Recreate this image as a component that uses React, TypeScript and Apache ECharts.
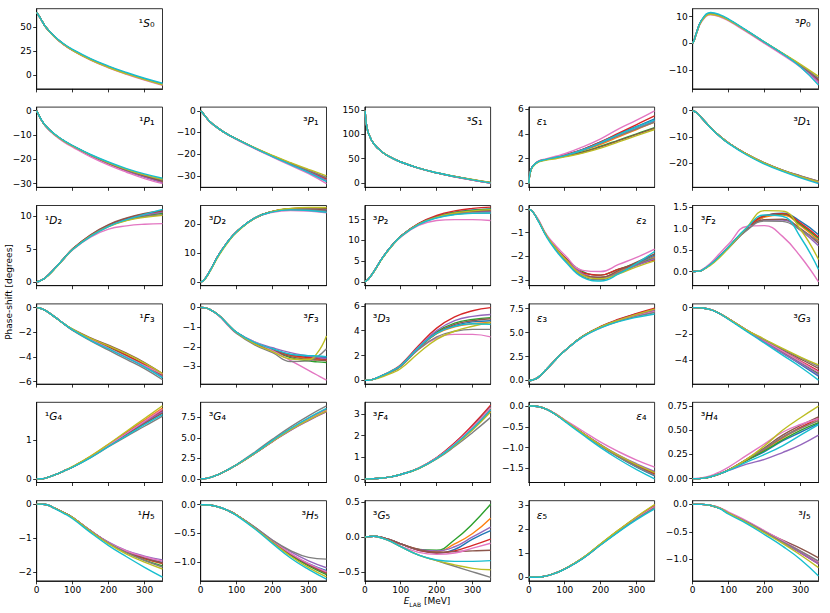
import React, { useEffect, useRef } from "react";
import * as echarts from "echarts";

const COLORS = ["#1f77b4", "#ff7f0e", "#2ca02c", "#d62728", "#9467bd", "#8c564b", "#e377c2", "#7f7f7f", "#bcbd22", "#17becf"];
const FONT = "DejaVu Sans";

// x grids (MeV)
const X11 = [0, 10, 25, 50, 75, 100, 150, 200, 250, 300, 350];
const X12 = [0, 5, 10, 25, 50, 75, 100, 150, 200, 250, 300, 350];
const X_S1 = [1, 3, 5, 10, 25, 50, 75, 100, 150, 200, 250, 300, 350];
const X_E1 = [0, 2, 5, 10, 25, 50, 75, 100, 150, 200, 250, 300, 350];
const X_F3 = [0, 10, 25, 50, 75, 100, 150, 200, 250, 300, 325, 350];
const X_TICKS = [0, 100, 200, 300];

// series order: blue, orange, green, red, purple, brown, pink, gray, olive, cyan
const D_1S0 = [
  [66, 63, 60, 50.5, 40.2, 32.3, 26.2, 16.4, 8.4, 1.6, -4.5, -9.9],
  [66, 63, 60, 50.5, 40.1, 32.2, 26.1, 16.3, 8.3, 1.5, -4.6, -10.0],
  [66, 63, 60, 50.5, 40.2, 32.3, 26.2, 16.4, 8.4, 1.6, -4.5, -9.8],
  [66, 63, 60, 50.5, 40.1, 32.2, 26.1, 16.2, 8.2, 1.4, -4.7, -10.2],
  [66, 63, 60, 50.5, 40.1, 32.2, 26.0, 16.2, 8.2, 1.4, -4.8, -10.3],
  [66, 63, 60, 50.5, 40.2, 32.3, 26.2, 16.4, 8.4, 1.6, -4.5, -9.9],
  [66, 63, 60, 50.4, 39.8, 31.8, 25.5, 15.5, 7.4, 0.6, -5.5, -11.0],
  [66, 63, 60, 50.5, 40.2, 32.3, 26.2, 16.5, 8.6, 1.8, -4.3, -9.6],
  [66, 63, 60, 50.5, 40.0, 32.0, 25.8, 15.8, 7.8, 1.0, -5.0, -10.4],
  [66, 63, 60, 50.6, 40.5, 32.8, 26.8, 17.2, 9.3, 2.5, -3.6, -8.8],
];
const D_3P0 = [
  [0, 1.6, 3.7, 8.6, 11.2, 10.4, 8.8, 4.7, 0.4, -3.8, -8.3, -13.6],
  [0, 1.6, 3.7, 8.6, 11.2, 10.4, 8.8, 4.7, 0.4, -3.8, -8.2, -13.4],
  [0, 1.6, 3.7, 8.6, 11.2, 10.4, 8.8, 4.7, 0.4, -3.8, -8.3, -13.8],
  [0, 1.6, 3.7, 8.6, 11.2, 10.4, 8.8, 4.6, 0.3, -3.9, -8.4, -14.0],
  [0, 1.6, 3.7, 8.6, 11.1, 10.3, 8.7, 4.6, 0.3, -3.9, -8.5, -14.3],
  [0, 1.6, 3.7, 8.6, 11.2, 10.4, 8.8, 4.7, 0.4, -3.8, -8.2, -13.3],
  [0, 1.5, 3.5, 8.2, 10.7, 10.0, 8.4, 4.3, 0.0, -4.3, -8.9, -15.0],
  [0, 1.6, 3.7, 8.6, 11.2, 10.4, 8.8, 4.7, 0.4, -3.8, -8.1, -13.0],
  [0, 1.5, 3.6, 8.4, 10.9, 10.2, 8.7, 4.7, 0.5, -3.6, -7.8, -12.3],
  [0, 1.6, 3.8, 8.8, 11.6, 10.8, 9.1, 4.9, 0.5, -3.8, -8.8, -15.6],
];
const D_1P1 = [
  [0, -1.5, -3, -6.3, -9.8, -12.4, -14.5, -18.3, -21.6, -24.4, -26.8, -28.9],
  [0, -1.5, -3, -6.3, -9.8, -12.4, -14.5, -18.3, -21.6, -24.5, -27.0, -29.2],
  [0, -1.5, -3, -6.3, -9.8, -12.4, -14.5, -18.3, -21.6, -24.4, -26.9, -29.0],
  [0, -1.5, -3, -6.3, -9.8, -12.4, -14.5, -18.4, -21.8, -24.7, -27.2, -29.5],
  [0, -1.5, -3, -6.3, -9.8, -12.4, -14.5, -18.4, -21.8, -24.7, -27.3, -29.6],
  [0, -1.5, -3, -6.3, -9.8, -12.4, -14.5, -18.3, -21.6, -24.4, -26.8, -28.8],
  [0, -1.6, -3.1, -6.5, -10.1, -12.8, -15.0, -19.0, -22.4, -25.3, -27.9, -30.0],
  [0, -1.5, -3, -6.3, -9.8, -12.4, -14.5, -18.2, -21.4, -24.2, -26.5, -28.4],
  [0, -1.5, -3, -6.3, -9.8, -12.4, -14.5, -18.2, -21.4, -24.1, -26.4, -28.2],
  [0, -1.5, -2.9, -6.2, -9.6, -12.2, -14.3, -18.0, -21.1, -23.8, -26.0, -27.8],
];
const D_3P1 = [
  [0, -0.9, -2, -4.9, -8.2, -10.9, -13.1, -17.2, -21.0, -24.6, -28.1, -32.0],
  [0, -0.9, -2, -4.9, -8.2, -10.9, -13.1, -17.2, -21.0, -24.5, -28.0, -31.8],
  [0, -0.9, -2, -4.9, -8.2, -10.9, -13.1, -17.2, -21.0, -24.5, -27.9, -31.5],
  [0, -0.9, -2, -4.9, -8.2, -10.9, -13.1, -17.2, -21.0, -24.5, -27.9, -31.4],
  [0, -0.9, -2, -4.9, -8.2, -10.9, -13.1, -17.2, -21.1, -24.7, -28.2, -32.1],
  [0, -0.9, -2, -4.9, -8.2, -10.9, -13.1, -17.1, -20.8, -24.2, -27.5, -30.8],
  [0, -0.9, -2, -5.0, -8.3, -11.0, -13.3, -17.5, -21.4, -25.2, -29.0, -33.6],
  [0, -0.9, -2, -4.9, -8.2, -10.9, -13.1, -17.1, -20.8, -24.2, -27.5, -30.9],
  [0, -0.9, -2, -4.9, -8.2, -10.9, -13.0, -17.0, -20.6, -23.9, -27.0, -30.0],
  [0, -0.9, -2, -4.9, -8.2, -10.9, -13.1, -17.2, -21.1, -24.8, -28.5, -32.7],
];
const D_3S1 = [
  [148, 128, 118, 102.6, 80.6, 62.8, 51.5, 43.2, 30.7, 21.2, 13.5, 6.8, 0.8],
  [148, 128, 118, 102.6, 80.6, 62.8, 51.5, 43.2, 30.7, 21.2, 13.5, 6.9, 0.9],
  [148, 128, 118, 102.6, 80.6, 62.8, 51.5, 43.2, 30.6, 21.0, 13.2, 6.4, 0.4],
  [148, 128, 118, 102.6, 80.6, 62.8, 51.5, 43.2, 30.6, 21.0, 13.1, 6.3, 0.3],
  [148, 128, 118, 102.6, 80.6, 62.8, 51.5, 43.2, 30.6, 21.0, 13.2, 6.4, 0.4],
  [148, 128, 118, 102.6, 80.6, 62.8, 51.5, 43.2, 30.7, 21.2, 13.5, 7.0, 1.0],
  [148, 128, 118, 102.6, 80.5, 62.7, 51.4, 43.1, 30.5, 20.9, 13.0, 6.1, 0.0],
  [148, 128, 118, 102.6, 80.6, 62.8, 51.5, 43.2, 30.7, 21.3, 13.6, 7.1, 1.2],
  [148, 128, 118, 102.6, 80.6, 62.9, 51.6, 43.3, 30.8, 21.4, 13.8, 7.4, 1.5],
  [148, 128, 118, 102.6, 80.6, 62.8, 51.5, 43.2, 30.7, 21.2, 13.4, 6.6, 0.6],
];
const D_E1 = [
  [0, 0.6, 1.0, 1.35, 1.75, 1.95, 2.1, 2.3, 2.75, 3.35, 4.0, 4.6, 5.2],
  [0, 0.6, 1.0, 1.35, 1.75, 1.95, 2.1, 2.25, 2.65, 3.15, 3.75, 4.35, 4.95],
  [0, 0.6, 1.0, 1.35, 1.75, 1.95, 2.1, 2.2, 2.55, 3.0, 3.5, 4.0, 4.5],
  [0, 0.6, 1.0, 1.35, 1.75, 1.95, 2.1, 2.3, 2.75, 3.35, 4.05, 4.75, 5.45],
  [0, 0.6, 1.0, 1.35, 1.75, 1.95, 2.1, 2.25, 2.7, 3.25, 3.85, 4.45, 5.05],
  [0, 0.6, 1.0, 1.35, 1.75, 1.95, 2.05, 2.2, 2.5, 2.95, 3.45, 3.95, 4.45],
  [0, 0.6, 1.0, 1.35, 1.78, 2.0, 2.2, 2.4, 2.95, 3.6, 4.4, 5.1, 5.85],
  [0, 0.6, 1.0, 1.35, 1.75, 1.95, 2.1, 2.25, 2.7, 3.25, 3.85, 4.4, 4.95],
  [0, 0.55, 0.95, 1.3, 1.7, 1.9, 2.0, 2.15, 2.45, 2.85, 3.35, 3.85, 4.35],
  [0, 0.6, 1.0, 1.35, 1.75, 1.95, 2.1, 2.25, 2.7, 3.3, 3.95, 4.55, 5.1],
];
const D_3D1 = [
  [0, -0.7, -2.8, -6.5, -9.7, -12.4, -16.7, -20.1, -22.9, -25.2, -27.2],
  [0, -0.7, -2.8, -6.5, -9.7, -12.4, -16.7, -20.1, -22.9, -25.3, -27.3],
  [0, -0.7, -2.8, -6.5, -9.7, -12.4, -16.7, -20.2, -23.0, -25.4, -27.4],
  [0, -0.7, -2.8, -6.5, -9.7, -12.4, -16.7, -20.2, -23.0, -25.4, -27.5],
  [0, -0.7, -2.8, -6.5, -9.7, -12.4, -16.8, -20.2, -23.1, -25.5, -27.6],
  [0, -0.7, -2.8, -6.5, -9.7, -12.4, -16.7, -20.0, -22.8, -25.0, -27.0],
  [0, -0.7, -2.8, -6.5, -9.7, -12.4, -16.7, -20.1, -22.9, -25.2, -27.2],
  [0, -0.7, -2.8, -6.5, -9.7, -12.4, -16.7, -20.0, -22.8, -25.1, -27.1],
  [0, -0.7, -2.8, -6.5, -9.7, -12.4, -16.7, -20.1, -22.9, -25.3, -27.3],
  [0, -0.7, -2.8, -6.6, -9.9, -12.6, -17.0, -20.5, -23.3, -25.8, -28.0],
];
const D_1D2 = [
  [0, 0.15, 0.65, 2.0, 3.5, 4.95, 7.0, 8.5, 9.5, 10.2, 10.8],
  [0, 0.15, 0.65, 2.0, 3.5, 4.95, 7.0, 8.5, 9.5, 10.1, 10.5],
  [0, 0.15, 0.65, 2.0, 3.5, 4.95, 7.0, 8.5, 9.45, 10.0, 10.4],
  [0, 0.15, 0.65, 2.0, 3.5, 5.0, 7.1, 8.6, 9.6, 10.3, 10.7],
  [0, 0.15, 0.65, 2.0, 3.5, 4.95, 7.0, 8.5, 9.5, 10.15, 10.6],
  [0, 0.15, 0.65, 2.0, 3.5, 5.0, 7.15, 8.7, 9.7, 10.4, 10.8],
  [0, 0.15, 0.65, 2.0, 3.45, 4.85, 6.8, 8.0, 8.5, 8.75, 8.85],
  [0, 0.15, 0.65, 2.0, 3.5, 4.95, 7.0, 8.45, 9.35, 9.9, 10.2],
  [0, 0.15, 0.6, 1.95, 3.45, 4.9, 6.95, 8.4, 9.3, 9.8, 10.1],
  [0, 0.15, 0.65, 2.0, 3.5, 4.9, 6.9, 8.4, 9.45, 10.25, 11.0],
];
const D_3D2 = [
  [0, 0.8, 3.7, 9.3, 13.8, 17.3, 22.0, 24.2, 25.0, 25.0, 24.6],
  [0, 0.8, 3.7, 9.3, 13.8, 17.3, 22.0, 24.3, 25.1, 25.2, 25.0],
  [0, 0.8, 3.7, 9.3, 13.8, 17.3, 22.0, 24.3, 25.2, 25.4, 25.3],
  [0, 0.8, 3.7, 9.3, 13.8, 17.3, 22.0, 24.3, 25.2, 25.5, 25.5],
  [0, 0.8, 3.7, 9.3, 13.8, 17.3, 22.0, 24.2, 25.0, 25.1, 24.9],
  [0, 0.8, 3.7, 9.3, 13.8, 17.3, 22.0, 24.2, 25.0, 25.0, 24.7],
  [0, 0.8, 3.7, 9.3, 13.8, 17.3, 21.9, 24.0, 24.6, 24.4, 23.8],
  [0, 0.8, 3.7, 9.3, 13.8, 17.3, 22.0, 24.2, 24.9, 24.8, 24.3],
  [0, 0.7, 3.5, 9.0, 13.5, 17.1, 21.9, 24.3, 25.3, 25.6, 25.6],
  [0, 0.8, 3.7, 9.3, 13.8, 17.3, 22.0, 24.1, 24.8, 24.6, 24.0],
];
const D_3P2 = [
  [0, 0.7, 2.5, 5.9, 8.7, 11.0, 14.0, 15.8, 16.8, 17.3, 17.6],
  [0, 0.7, 2.5, 5.9, 8.7, 11.0, 14.0, 15.7, 16.6, 17.1, 17.3],
  [0, 0.7, 2.5, 5.9, 8.7, 11.0, 14.0, 15.7, 16.7, 17.2, 17.5],
  [0, 0.7, 2.5, 5.9, 8.7, 11.0, 14.1, 16.0, 17.1, 17.7, 18.0],
  [0, 0.7, 2.5, 5.9, 8.7, 11.0, 14.0, 15.6, 16.5, 16.9, 17.0],
  [0, 0.7, 2.5, 5.9, 8.7, 11.0, 14.0, 15.7, 16.6, 17.0, 17.2],
  [0, 0.7, 2.5, 5.9, 8.6, 10.8, 13.6, 14.8, 15.0, 15.0, 14.8],
  [0, 0.7, 2.5, 5.9, 8.7, 11.0, 13.9, 15.5, 16.3, 16.6, 16.6],
  [0, 0.7, 2.4, 5.8, 8.6, 10.9, 13.9, 15.6, 16.6, 17.1, 17.4],
  [0, 0.7, 2.5, 5.9, 8.7, 10.9, 13.8, 15.4, 16.2, 16.5, 16.6],
];
const D_E2 = [
  [0, -0.1, -0.45, -1.15, -1.65, -2.1, -2.75, -2.9, -2.65, -2.3, -1.95],
  [0, -0.1, -0.45, -1.15, -1.65, -2.1, -2.75, -2.9, -2.65, -2.35, -2.05],
  [0, -0.1, -0.45, -1.15, -1.65, -2.05, -2.65, -2.8, -2.55, -2.3, -2.1],
  [0, -0.1, -0.45, -1.15, -1.65, -2.05, -2.7, -2.8, -2.55, -2.35, -2.15],
  [0, -0.1, -0.45, -1.15, -1.65, -2.1, -2.75, -2.9, -2.7, -2.4, -2.1],
  [0, -0.1, -0.45, -1.15, -1.65, -2.1, -2.8, -2.9, -2.6, -2.25, -1.9],
  [0, -0.1, -0.4, -1.1, -1.55, -1.95, -2.6, -2.65, -2.35, -2.05, -1.7],
  [0, -0.1, -0.45, -1.15, -1.7, -2.15, -2.85, -3.0, -2.7, -2.35, -2.0],
  [0, -0.1, -0.45, -1.15, -1.65, -2.1, -2.8, -2.95, -2.75, -2.45, -2.2],
  [0, -0.1, -0.47, -1.2, -1.75, -2.2, -2.9, -3.05, -2.75, -2.3, -1.8],
];
const D_3F2 = [
  [0, 0.005, 0.03, 0.17, 0.36, 0.57, 1.0, 1.28, 1.36, 1.17, 0.86],
  [0, 0.005, 0.03, 0.17, 0.36, 0.57, 1.0, 1.27, 1.32, 1.07, 0.72],
  [0, 0.005, 0.03, 0.17, 0.36, 0.57, 1.0, 1.3, 1.34, 1.1, 0.77],
  [0, 0.005, 0.03, 0.17, 0.36, 0.57, 1.0, 1.3, 1.35, 1.13, 0.8],
  [0, 0.005, 0.03, 0.17, 0.36, 0.56, 0.97, 1.2, 1.2, 0.96, 0.6],
  [0, 0.005, 0.03, 0.17, 0.36, 0.56, 0.97, 1.21, 1.22, 1.0, 0.66],
  [0, 0.006, 0.04, 0.2, 0.42, 0.64, 1.05, 1.07, 0.82, 0.35, -0.24],
  [0, 0.005, 0.03, 0.17, 0.35, 0.55, 0.96, 1.18, 1.17, 0.97, 0.7],
  [0, 0.004, 0.025, 0.15, 0.33, 0.55, 1.02, 1.42, 1.41, 0.98, 0.28],
  [0, 0.005, 0.03, 0.17, 0.36, 0.58, 1.02, 1.32, 1.29, 0.8, 0.05],
];
const D_1F3 = [
  [0, -0.05, -0.25, -0.75, -1.3, -1.8, -2.6, -3.3, -4.0, -4.7, -5.5],
  [0, -0.05, -0.25, -0.75, -1.3, -1.8, -2.6, -3.3, -4.0, -4.75, -5.55],
  [0, -0.05, -0.25, -0.75, -1.3, -1.8, -2.55, -3.2, -3.9, -4.65, -5.5],
  [0, -0.05, -0.25, -0.75, -1.3, -1.8, -2.55, -3.15, -3.85, -4.6, -5.45],
  [0, -0.05, -0.25, -0.75, -1.3, -1.8, -2.6, -3.3, -4.05, -4.8, -5.6],
  [0, -0.05, -0.25, -0.75, -1.3, -1.75, -2.45, -3.05, -3.7, -4.45, -5.35],
  [0, -0.05, -0.25, -0.75, -1.3, -1.8, -2.6, -3.3, -4.0, -4.7, -5.4],
  [0, -0.05, -0.25, -0.75, -1.3, -1.85, -2.7, -3.45, -4.2, -4.95, -5.85],
  [0, -0.05, -0.25, -0.75, -1.3, -1.75, -2.5, -3.1, -3.75, -4.5, -5.35],
  [0, -0.05, -0.25, -0.75, -1.3, -1.8, -2.65, -3.35, -4.05, -4.8, -5.7],
];
const D_3F3 = [
  [0, -0.01, -0.1, -0.4, -0.85, -1.28, -1.8, -2.15, -2.4, -2.5, -2.52, -2.55],
  [0, -0.01, -0.1, -0.4, -0.85, -1.28, -1.8, -2.15, -2.45, -2.6, -2.65, -2.7],
  [0, -0.01, -0.1, -0.4, -0.85, -1.28, -1.82, -2.2, -2.55, -2.72, -2.77, -2.8],
  [0, -0.01, -0.1, -0.4, -0.85, -1.28, -1.8, -2.15, -2.42, -2.55, -2.6, -2.65],
  [0, -0.01, -0.1, -0.4, -0.85, -1.27, -1.75, -2.05, -2.3, -2.47, -2.55, -2.6],
  [0, -0.01, -0.1, -0.4, -0.85, -1.28, -1.8, -2.18, -2.5, -2.65, -2.68, -2.7],
  [0, -0.01, -0.1, -0.42, -0.9, -1.32, -1.75, -2.2, -2.7, -3.2, -3.45, -3.7],
  [0, -0.01, -0.1, -0.4, -0.87, -1.32, -1.9, -2.3, -2.75, -2.72, -2.5, -2.1],
  [0, -0.01, -0.1, -0.4, -0.85, -1.28, -1.85, -2.25, -2.62, -2.65, -2.3, -1.45],
  [0, -0.01, -0.1, -0.4, -0.85, -1.27, -1.78, -2.1, -2.38, -2.45, -2.47, -2.5],
];
const D_3D3 = [
  [0, 0.01, 0.1, 0.4, 0.72, 1.15, 2.6, 3.8, 4.4, 4.7, 4.8],
  [0, 0.01, 0.1, 0.4, 0.72, 1.15, 2.6, 3.75, 4.3, 4.55, 4.65],
  [0, 0.01, 0.1, 0.4, 0.72, 1.15, 2.65, 3.9, 4.6, 4.9, 5.05],
  [0, 0.01, 0.1, 0.42, 0.78, 1.25, 2.8, 4.2, 5.1, 5.6, 5.85],
  [0, 0.01, 0.1, 0.4, 0.74, 1.2, 2.7, 4.0, 4.8, 5.15, 5.3],
  [0, 0.01, 0.1, 0.4, 0.72, 1.15, 2.6, 3.8, 4.5, 4.8, 4.95],
  [0, 0.01, 0.1, 0.4, 0.72, 1.15, 2.5, 3.4, 3.7, 3.7, 3.5],
  [0, 0.01, 0.1, 0.4, 0.72, 1.12, 2.5, 3.5, 3.95, 4.1, 4.1],
  [0, 0.01, 0.08, 0.3, 0.58, 0.95, 2.2, 3.3, 3.95, 4.35, 4.65],
  [0, 0.01, 0.1, 0.42, 0.76, 1.2, 2.65, 3.8, 4.35, 4.55, 4.5],
];
const D_E3 = [
  [0, 0.05, 0.3, 1.2, 2.2, 3.1, 4.6, 5.6, 6.35, 6.95, 7.45],
  [0, 0.05, 0.3, 1.2, 2.2, 3.1, 4.6, 5.6, 6.3, 6.9, 7.4],
  [0, 0.05, 0.3, 1.2, 2.2, 3.1, 4.6, 5.6, 6.3, 6.85, 7.3],
  [0, 0.05, 0.3, 1.2, 2.2, 3.1, 4.6, 5.65, 6.4, 7.0, 7.55],
  [0, 0.05, 0.3, 1.2, 2.2, 3.1, 4.6, 5.6, 6.3, 6.85, 7.35],
  [0, 0.05, 0.3, 1.2, 2.2, 3.1, 4.6, 5.6, 6.25, 6.8, 7.2],
  [0, 0.05, 0.3, 1.2, 2.2, 3.1, 4.55, 5.5, 6.2, 6.75, 7.2],
  [0, 0.05, 0.3, 1.2, 2.2, 3.1, 4.6, 5.55, 6.2, 6.7, 7.1],
  [0, 0.05, 0.3, 1.2, 2.2, 3.1, 4.6, 5.6, 6.3, 6.9, 7.45],
  [0, 0.05, 0.3, 1.2, 2.2, 3.1, 4.55, 5.5, 6.15, 6.6, 6.95],
];
const D_3G3 = [
  [0, 0, -0.02, -0.15, -0.45, -0.85, -1.75, -2.6, -3.45, -4.3, -5.2],
  [0, 0, -0.02, -0.15, -0.45, -0.85, -1.75, -2.6, -3.4, -4.2, -5.0],
  [0, 0, -0.02, -0.15, -0.45, -0.85, -1.75, -2.6, -3.4, -4.2, -5.0],
  [0, 0, -0.02, -0.15, -0.45, -0.85, -1.7, -2.5, -3.3, -4.05, -4.8],
  [0, 0, -0.02, -0.15, -0.45, -0.85, -1.75, -2.6, -3.45, -4.25, -5.1],
  [0, 0, -0.02, -0.15, -0.45, -0.85, -1.7, -2.45, -3.2, -3.9, -4.6],
  [0, 0, -0.02, -0.15, -0.45, -0.85, -1.7, -2.5, -3.3, -4.1, -4.9],
  [0, 0, -0.02, -0.15, -0.45, -0.85, -1.7, -2.45, -3.15, -3.8, -4.45],
  [0, 0, -0.02, -0.15, -0.45, -0.85, -1.7, -2.4, -3.1, -3.75, -4.35],
  [0, 0, -0.02, -0.15, -0.45, -0.9, -1.8, -2.7, -3.6, -4.5, -5.5],
];
const D_1G4 = [
  [0, 0.002, 0.02, 0.1, 0.2, 0.31, 0.57, 0.87, 1.18, 1.47, 1.75],
  [0, 0.002, 0.02, 0.1, 0.2, 0.31, 0.58, 0.89, 1.21, 1.52, 1.83],
  [0, 0.002, 0.02, 0.1, 0.2, 0.31, 0.57, 0.87, 1.18, 1.48, 1.78],
  [0, 0.002, 0.02, 0.1, 0.2, 0.31, 0.57, 0.87, 1.18, 1.48, 1.77],
  [0, 0.002, 0.02, 0.1, 0.2, 0.31, 0.57, 0.86, 1.16, 1.45, 1.73],
  [0, 0.002, 0.02, 0.1, 0.2, 0.31, 0.57, 0.86, 1.15, 1.43, 1.7],
  [0, 0.002, 0.02, 0.1, 0.2, 0.31, 0.57, 0.87, 1.18, 1.49, 1.8],
  [0, 0.002, 0.02, 0.1, 0.2, 0.3, 0.55, 0.83, 1.1, 1.36, 1.62],
  [0, 0.002, 0.02, 0.1, 0.2, 0.32, 0.59, 0.9, 1.23, 1.56, 1.89],
  [0, 0.002, 0.02, 0.1, 0.2, 0.3, 0.55, 0.84, 1.12, 1.4, 1.66],
];
const D_3G4 = [
  [0, 0.02, 0.15, 0.55, 1.1, 1.7, 3.1, 4.6, 6.0, 7.2, 8.3],
  [0, 0.02, 0.15, 0.55, 1.1, 1.7, 3.1, 4.55, 5.95, 7.15, 8.2],
  [0, 0.02, 0.15, 0.55, 1.1, 1.7, 3.12, 4.62, 6.05, 7.28, 8.4],
  [0, 0.02, 0.15, 0.55, 1.1, 1.7, 3.1, 4.6, 6.0, 7.2, 8.3],
  [0, 0.02, 0.15, 0.55, 1.1, 1.7, 3.08, 4.55, 5.93, 7.12, 8.2],
  [0, 0.02, 0.15, 0.55, 1.1, 1.72, 3.15, 4.68, 6.1, 7.35, 8.5],
  [0, 0.02, 0.15, 0.55, 1.1, 1.7, 3.12, 4.63, 6.06, 7.28, 8.4],
  [0, 0.02, 0.15, 0.55, 1.1, 1.75, 3.25, 4.85, 6.35, 7.7, 8.9],
  [0, 0.02, 0.15, 0.55, 1.1, 1.7, 3.1, 4.6, 6.0, 7.2, 8.3],
  [0, 0.02, 0.15, 0.55, 1.1, 1.72, 3.15, 4.7, 6.15, 7.45, 8.6],
];
const D_3F4 = [
  [0, 0, 0.01, 0.04, 0.1, 0.2, 0.5, 0.98, 1.65, 2.45, 3.35],
  [0, 0, 0.01, 0.04, 0.1, 0.2, 0.5, 0.97, 1.62, 2.4, 3.3],
  [0, 0, 0.01, 0.04, 0.1, 0.2, 0.49, 0.96, 1.6, 2.37, 3.25],
  [0, 0, 0.01, 0.04, 0.1, 0.2, 0.5, 0.99, 1.67, 2.5, 3.42],
  [0, 0, 0.01, 0.04, 0.1, 0.2, 0.49, 0.95, 1.58, 2.33, 3.2],
  [0, 0, 0.01, 0.04, 0.1, 0.2, 0.49, 0.95, 1.57, 2.3, 3.15],
  [0, 0, 0.01, 0.04, 0.1, 0.2, 0.5, 0.97, 1.62, 2.4, 3.3],
  [0, 0, 0.01, 0.04, 0.1, 0.2, 0.48, 0.92, 1.5, 2.15, 2.85],
  [0, 0, 0.01, 0.04, 0.1, 0.2, 0.48, 0.94, 1.55, 2.27, 3.1],
  [0, 0, 0.01, 0.04, 0.1, 0.2, 0.49, 0.95, 1.58, 2.33, 3.2],
];
const D_E4 = [
  [0, 0, -0.01, -0.08, -0.2, -0.35, -0.66, -0.96, -1.23, -1.47, -1.68],
  [0, 0, -0.01, -0.08, -0.2, -0.35, -0.66, -0.95, -1.22, -1.45, -1.65],
  [0, 0, -0.01, -0.08, -0.2, -0.35, -0.65, -0.94, -1.2, -1.43, -1.62],
  [0, 0, -0.01, -0.08, -0.2, -0.35, -0.66, -0.95, -1.21, -1.44, -1.63],
  [0, 0, -0.01, -0.08, -0.2, -0.35, -0.65, -0.93, -1.18, -1.39, -1.57],
  [0, 0, -0.01, -0.08, -0.2, -0.35, -0.65, -0.94, -1.2, -1.42, -1.6],
  [0, 0, -0.01, -0.08, -0.19, -0.33, -0.6, -0.87, -1.1, -1.3, -1.47],
  [0, 0, -0.01, -0.08, -0.2, -0.35, -0.66, -0.96, -1.22, -1.46, -1.66],
  [0, 0, -0.01, -0.08, -0.2, -0.35, -0.65, -0.94, -1.19, -1.41, -1.6],
  [0, 0, -0.01, -0.08, -0.21, -0.37, -0.69, -1.0, -1.28, -1.53, -1.75],
];
const D_3H4 = [
  [0, 0, 0.003, 0.02, 0.05, 0.09, 0.19, 0.28, 0.39, 0.48, 0.57],
  [0, 0, 0.003, 0.02, 0.05, 0.09, 0.19, 0.3, 0.42, 0.52, 0.6],
  [0, 0, 0.003, 0.02, 0.05, 0.09, 0.19, 0.29, 0.4, 0.5, 0.58],
  [0, 0, 0.003, 0.02, 0.05, 0.09, 0.2, 0.31, 0.43, 0.53, 0.62],
  [0, 0, 0.003, 0.02, 0.05, 0.085, 0.15, 0.2, 0.27, 0.35, 0.45],
  [0, 0, 0.003, 0.02, 0.05, 0.09, 0.2, 0.32, 0.45, 0.55, 0.64],
  [0, 0.002, 0.008, 0.03, 0.07, 0.12, 0.24, 0.36, 0.48, 0.56, 0.62],
  [0, 0, 0.003, 0.02, 0.05, 0.09, 0.2, 0.31, 0.43, 0.52, 0.6],
  [0, 0, 0.003, 0.02, 0.05, 0.09, 0.2, 0.34, 0.5, 0.63, 0.75],
  [0, 0, 0.003, 0.02, 0.05, 0.085, 0.17, 0.25, 0.34, 0.45, 0.56],
];
const D_1H5 = [
  [0, 0, -0.01, -0.12, -0.25, -0.4, -0.79, -1.14, -1.4, -1.58, -1.72],
  [0, 0, -0.01, -0.12, -0.25, -0.4, -0.79, -1.14, -1.4, -1.6, -1.76],
  [0, 0, -0.01, -0.12, -0.25, -0.4, -0.79, -1.15, -1.43, -1.65, -1.82],
  [0, 0, -0.01, -0.12, -0.25, -0.4, -0.79, -1.14, -1.41, -1.6, -1.73],
  [0, 0, -0.01, -0.12, -0.25, -0.4, -0.78, -1.12, -1.37, -1.53, -1.64],
  [0, 0, -0.01, -0.12, -0.25, -0.4, -0.79, -1.14, -1.4, -1.59, -1.74],
  [0, 0, -0.01, -0.12, -0.25, -0.4, -0.78, -1.13, -1.38, -1.55, -1.68],
  [0, 0, -0.01, -0.12, -0.25, -0.4, -0.79, -1.15, -1.43, -1.66, -1.85],
  [0, 0, -0.01, -0.12, -0.25, -0.4, -0.8, -1.17, -1.47, -1.71, -1.91],
  [0, 0, -0.01, -0.13, -0.27, -0.43, -0.84, -1.22, -1.55, -1.86, -2.15],
];
const D_3H5 = [
  [0, 0, -0.005, -0.04, -0.1, -0.18, -0.4, -0.64, -0.86, -1.03, -1.15],
  [0, 0, -0.005, -0.04, -0.1, -0.18, -0.4, -0.64, -0.87, -1.05, -1.2],
  [0, 0, -0.005, -0.04, -0.1, -0.18, -0.4, -0.65, -0.88, -1.07, -1.22],
  [0, 0, -0.005, -0.04, -0.1, -0.18, -0.4, -0.64, -0.86, -1.04, -1.18],
  [0, 0, -0.005, -0.04, -0.1, -0.18, -0.39, -0.62, -0.82, -0.98, -1.1],
  [0, 0, -0.005, -0.04, -0.1, -0.18, -0.4, -0.64, -0.86, -1.05, -1.2],
  [0, 0, -0.005, -0.04, -0.1, -0.18, -0.4, -0.63, -0.85, -1.03, -1.17],
  [0, 0, -0.005, -0.04, -0.1, -0.18, -0.39, -0.62, -0.8, -0.92, -0.95],
  [0, 0, -0.005, -0.04, -0.1, -0.18, -0.41, -0.66, -0.9, -1.1, -1.26],
  [0, 0, -0.005, -0.04, -0.1, -0.19, -0.42, -0.68, -0.93, -1.13, -1.3],
];
const D_3G5 = [
  [0, 0.005, 0.01, -0.01, -0.05, -0.1, -0.19, -0.23, -0.18, -0.03, 0.09],
  [0, 0.005, 0.01, -0.01, -0.05, -0.1, -0.18, -0.21, -0.1, 0.05, 0.27],
  [0, 0.005, 0.01, -0.01, -0.05, -0.1, -0.18, -0.19, -0.04, 0.19, 0.47],
  [0, 0.005, 0.01, -0.01, -0.05, -0.1, -0.19, -0.23, -0.2, -0.12, -0.03],
  [0, 0.005, 0.01, -0.01, -0.05, -0.1, -0.18, -0.2, -0.14, 0.0, 0.14],
  [0, 0.005, 0.01, -0.01, -0.05, -0.1, -0.18, -0.22, -0.21, -0.2, -0.19],
  [0, 0.005, 0.01, -0.02, -0.07, -0.13, -0.22, -0.25, -0.23, -0.16, -0.09],
  [0, 0.005, 0.01, -0.02, -0.07, -0.14, -0.26, -0.34, -0.42, -0.5, -0.58],
  [0, 0.005, 0.01, -0.02, -0.07, -0.14, -0.26, -0.34, -0.4, -0.45, -0.47],
  [0, 0.005, 0.01, -0.02, -0.07, -0.14, -0.26, -0.33, -0.35, -0.35, -0.34],
];
const D_E5 = [
  [0, 0, 0.005, 0.06, 0.18, 0.35, 0.8, 1.38, 1.95, 2.48, 2.95],
  [0, 0, 0.005, 0.06, 0.18, 0.35, 0.8, 1.39, 1.97, 2.52, 3.02],
  [0, 0, 0.005, 0.06, 0.18, 0.35, 0.8, 1.39, 1.96, 2.5, 2.98],
  [0, 0, 0.005, 0.06, 0.18, 0.35, 0.8, 1.38, 1.95, 2.49, 2.97],
  [0, 0, 0.005, 0.06, 0.18, 0.35, 0.79, 1.37, 1.93, 2.45, 2.92],
  [0, 0, 0.005, 0.06, 0.18, 0.35, 0.79, 1.37, 1.93, 2.46, 2.93],
  [0, 0, 0.005, 0.06, 0.18, 0.35, 0.8, 1.38, 1.95, 2.48, 2.95],
  [0, 0, 0.005, 0.06, 0.18, 0.35, 0.79, 1.36, 1.92, 2.44, 2.9],
  [0, 0, 0.005, 0.06, 0.18, 0.35, 0.81, 1.4, 1.98, 2.53, 3.04],
  [0, 0, 0.005, 0.06, 0.18, 0.34, 0.78, 1.35, 1.9, 2.41, 2.86],
];
const D_3I5 = [
  [0, 0, 0, -0.02, -0.07, -0.16, -0.32, -0.5, -0.68, -0.86, -1.04],
  [0, 0, 0, -0.02, -0.07, -0.16, -0.32, -0.5, -0.68, -0.86, -1.05],
  [0, 0, 0, -0.02, -0.07, -0.16, -0.32, -0.5, -0.69, -0.87, -1.07],
  [0, 0, 0, -0.02, -0.07, -0.16, -0.32, -0.5, -0.69, -0.88, -1.08],
  [0, 0, 0, -0.02, -0.07, -0.16, -0.32, -0.5, -0.69, -0.88, -1.08],
  [0, 0, 0, -0.02, -0.07, -0.16, -0.31, -0.49, -0.65, -0.8, -0.97],
  [0, 0, 0, -0.02, -0.06, -0.14, -0.3, -0.48, -0.66, -0.85, -1.05],
  [0, 0, 0, -0.02, -0.07, -0.16, -0.32, -0.5, -0.68, -0.85, -1.03],
  [0, 0, 0, -0.02, -0.07, -0.16, -0.33, -0.52, -0.71, -0.92, -1.15],
  [0, 0, 0, -0.02, -0.08, -0.18, -0.35, -0.55, -0.76, -1.0, -1.3],
];

// panel list: row, col, label parts, label side, y-range, y ticks, decimals
type Panel = { r: number; c: number; sp: string; L: string; j: string; side: "l" | "r"; x: number[]; d: number[][]; y0: number; y1: number; t: number[]; dec: number };
const PANELS: Panel[] = [
  { r: 0, c: 0, sp: "¹", L: "S", j: "₀", side: "r", x: X12, d: D_1S0, y0: -14.8, y1: 69.8, t: [0, 25, 50], dec: 0 },
  { r: 0, c: 4, sp: "³", L: "P", j: "₀", side: "r", x: X12, d: D_3P0, y0: -17.0, y1: 13.0, t: [-10, 0, 10], dec: 0 },
  { r: 1, c: 0, sp: "¹", L: "P", j: "₁", side: "r", x: X12, d: D_1P1, y0: -31.5, y1: 1.5, t: [-30, -20, -10, 0], dec: 0 },
  { r: 1, c: 1, sp: "³", L: "P", j: "₁", side: "r", x: X12, d: D_3P1, y0: -35.3, y1: 1.7, t: [-30, -20, -10, 0], dec: 0 },
  { r: 1, c: 2, sp: "³", L: "S", j: "₁", side: "r", x: X_S1, d: D_3S1, y0: -8.5, y1: 155.5, t: [0, 50, 100, 150], dec: 0 },
  { r: 1, c: 3, sp: "", L: "ε", j: "₁", side: "l", x: X_E1, d: D_E1, y0: -0.3, y1: 6.15, t: [0, 2, 4, 6], dec: 0 },
  { r: 1, c: 4, sp: "³", L: "D", j: "₁", side: "r", x: X11, d: D_3D1, y0: -29.4, y1: 1.4, t: [-20, -10, 0], dec: 0 },
  { r: 2, c: 0, sp: "¹", L: "D", j: "₂", side: "l", x: X11, d: D_1D2, y0: -0.6, y1: 11.6, t: [0, 5, 10], dec: 0 },
  { r: 2, c: 1, sp: "³", L: "D", j: "₂", side: "l", x: X11, d: D_3D2, y0: -1.25, y1: 26.3, t: [0, 10, 20], dec: 0 },
  { r: 2, c: 2, sp: "³", L: "P", j: "₂", side: "l", x: X11, d: D_3P2, y0: -0.9, y1: 18.4, t: [0, 5, 10, 15], dec: 0 },
  { r: 2, c: 3, sp: "", L: "ε", j: "₂", side: "r", x: X11, d: D_E2, y0: -3.25, y1: 0.15, t: [-3, -2, -1, 0], dec: 0 },
  { r: 2, c: 4, sp: "³", L: "F", j: "₂", side: "l", x: X11, d: D_3F2, y0: -0.33, y1: 1.54, t: [0, 0.5, 1, 1.5], dec: 1 },
  { r: 3, c: 0, sp: "¹", L: "F", j: "₃", side: "r", x: X11, d: D_1F3, y0: -6.2, y1: 0.3, t: [-6, -4, -2, 0], dec: 0 },
  { r: 3, c: 1, sp: "³", L: "F", j: "₃", side: "r", x: X_F3, d: D_3F3, y0: -3.9, y1: 0.18, t: [-3, -2, -1, 0], dec: 0 },
  { r: 3, c: 2, sp: "³", L: "D", j: "₃", side: "l", x: X11, d: D_3D3, y0: -0.3, y1: 6.15, t: [0, 2, 4, 6], dec: 0 },
  { r: 3, c: 3, sp: "", L: "ε", j: "₃", side: "l", x: X11, d: D_E3, y0: -0.38, y1: 8.0, t: [0, 2.5, 5, 7.5], dec: 1 },
  { r: 3, c: 4, sp: "³", L: "G", j: "₃", side: "r", x: X11, d: D_3G3, y0: -5.8, y1: 0.28, t: [-4, -2, 0], dec: 0 },
  { r: 4, c: 0, sp: "¹", L: "G", j: "₄", side: "l", x: X11, d: D_1G4, y0: -0.095, y1: 1.98, t: [0, 1], dec: 0 },
  { r: 4, c: 1, sp: "³", L: "G", j: "₄", side: "l", x: X11, d: D_3G4, y0: -0.45, y1: 9.35, t: [0, 2.5, 5, 7.5], dec: 1 },
  { r: 4, c: 2, sp: "³", L: "F", j: "₄", side: "l", x: X11, d: D_3F4, y0: -0.17, y1: 3.55, t: [0, 1, 2, 3], dec: 0 },
  { r: 4, c: 3, sp: "", L: "ε", j: "₄", side: "r", x: X11, d: D_E4, y0: -1.84, y1: 0.09, t: [-1.5, -1, -0.5, 0], dec: 1 },
  { r: 4, c: 4, sp: "³", L: "H", j: "₄", side: "l", x: X11, d: D_3H4, y0: -0.04, y1: 0.79, t: [0, 0.25, 0.5, 0.75], dec: 2 },
  { r: 5, c: 0, sp: "¹", L: "H", j: "₅", side: "r", x: X11, d: D_1H5, y0: -2.26, y1: 0.1, t: [-2, -1, 0], dec: 0 },
  { r: 5, c: 1, sp: "³", L: "H", j: "₅", side: "r", x: X11, d: D_3H5, y0: -1.33, y1: 0.07, t: [-1, -0.5, 0], dec: 1 },
  { r: 5, c: 2, sp: "³", L: "G", j: "₅", side: "l", x: X11, d: D_3G5, y0: -0.63, y1: 0.52, t: [-0.5, 0, 0.5], dec: 1 },
  { r: 5, c: 3, sp: "", L: "ε", j: "₅", side: "l", x: X11, d: D_E5, y0: -0.15, y1: 3.2, t: [0, 1, 2, 3], dec: 0 },
  { r: 5, c: 4, sp: "³", L: "I", j: "₅", side: "r", x: X11, d: D_3I5, y0: -1.39, y1: 0.066, t: [-1, -0.5, 0], dec: 1 },
];

const COL_LEFT = [36.7, 200.7, 364.8, 528.8, 692.7];
const ROW_TOP = [8.7, 107.1, 205.5, 303.9, 402.3, 500.7];
const PW = 125.8;
const PH = 80.2;

const fmt = (v: number, dec: number) => {
  const s = v.toFixed(dec);
  return s.replace("-", "\u2212");
};

export default function App() {
  const ref = useRef<HTMLDivElement>(null);
  useEffect(() => {
    if (!ref.current) return;
    const chart = echarts.init(ref.current, null, { renderer: "svg" });
    const grid: any[] = [];
    const xAxis: any[] = [];
    const yAxis: any[] = [];
    const series: any[] = [];
    const graphic: any[] = [];
    const lineStyle = { color: "#000", width: 0.8 };
    PANELS.forEach((p, i) => {
      const left = COL_LEFT[p.c];
      const top = ROW_TOP[p.r];
      grid.push({ left, top, width: PW, height: PH, show: true, borderColor: "#000", borderWidth: 0.8, backgroundColor: "transparent" });
      xAxis.push({
        gridIndex: i, type: "value", min: 0, max: 350,
        axisLine: { show: true, onZero: false, lineStyle },
        splitLine: { show: false },
        axisTick: { show: true, customValues: X_TICKS, length: 3.5, lineStyle },
        axisLabel: { show: p.r === 5, customValues: X_TICKS, fontSize: 9, color: "#000", fontFamily: FONT, margin: 5 },
      });
      yAxis.push({
        gridIndex: i, type: "value", min: p.y0, max: p.y1,
        axisLine: { show: true, onZero: false, lineStyle },
        splitLine: { show: false },
        axisTick: { show: true, customValues: p.t, length: 3.5, lineStyle },
        axisLabel: { show: true, customValues: p.t, fontSize: 9, color: "#000", fontFamily: FONT, margin: 5, formatter: (v: number) => fmt(v, p.dec) },
      });
      p.d.forEach((ys, k) => {
        series.push({
          type: "line", xAxisIndex: i, yAxisIndex: i,
          data: p.x.map((x, m) => [x, ys[m]]),
          symbol: "none", showSymbol: false, smooth: 0.45,
          lineStyle: { width: 1.4, color: COLORS[k] }, itemStyle: { color: COLORS[k] },
          silent: true, clip: true,
        });
      });
      const isRight = p.side === "r";
      graphic.push({
        type: "text",
        x: isRight ? left + PW - 8 : left + 8,
        y: top + 14,
        style: {
          text: `{a|${p.sp}}{b|${p.L}}{a|${p.j}}`,
          align: isRight ? "right" : "left",
          verticalAlign: "middle",
          rich: {
            a: { fontSize: 11.5, fontFamily: FONT, fill: "#000" },
            b: { fontSize: 10.5, fontFamily: FONT, fontStyle: "italic", fill: "#000" },
          },
        },
      });
    });
    graphic.push({
      type: "text", x: 9, y: 292, rotation: Math.PI / 2,
      style: { text: "Phase-shift [degrees]", fontSize: 9, fontFamily: FONT, fill: "#000", align: "center", verticalAlign: "middle" },
    });
    graphic.push({
      type: "text", x: 427, y: 601,
      style: {
        text: "{i|E}{s|LAB}{n| [MeV]}",
        align: "center", verticalAlign: "middle",
        rich: {
          i: { fontSize: 9, fontStyle: "italic", fontFamily: FONT, fill: "#000", lineHeight: 12 },
          s: { fontSize: 6, fontFamily: FONT, fill: "#000", lineHeight: 7, verticalAlign: "bottom" },
          n: { fontSize: 9, fontFamily: FONT, fill: "#000", lineHeight: 12 },
        },
      },
    });
    chart.setOption({ animation: false, backgroundColor: "#fff", grid, xAxis, yAxis, series, graphic });
    return () => chart.dispose();
  }, []);
  return <div ref={ref} style={{ position: "absolute", left: 0, top: 0, width: 830, height: 613 }} />;
}
